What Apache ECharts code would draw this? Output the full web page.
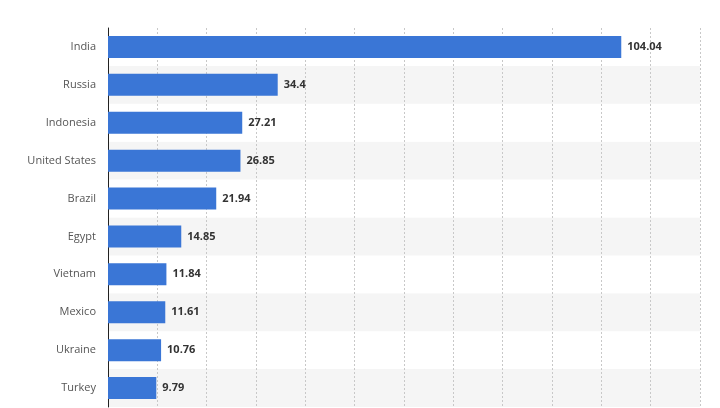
<!DOCTYPE html>
<html>
<head>
<meta charset="utf-8">
<script src="https://cdn.jsdelivr.net/npm/echarts@6/dist/echarts.min.js"></script>
<style>html,body{margin:0;padding:0;background:#fff}#main{width:720px;height:408px}</style>
</head>
<body>
<div id="main"></div>
<script>
// listed bottom to top, as the category axis draws them
var countries = ["Turkey", "Ukraine", "Mexico", "Vietnam", "Egypt", "Brazil", "United States", "Indonesia", "Russia", "India"];
var values = [9.79, 10.76, 11.61, 11.84, 14.85, 21.94, 26.85, 27.21, 34.4, 104.04];

var chart = echarts.init(document.getElementById("main"));
chart.setOption({
    animation: false,
    grid: {left: 108, right: 20, top: 28, bottom: 1, containLabel: false},
    xAxis: {
        type: "value",
        min: 0,
        max: 120,
        interval: 10,
        axisLabel: {show: false},
        axisLine: {show: false},
        axisTick: {show: false},
        splitLine: {lineStyle: {color: "#c8c8c8", type: [2, 2]}}
    },
    yAxis: {
        type: "category",
        data: countries,
        axisLine: {lineStyle: {color: "#222", width: 1}},
        axisTick: {show: false},
        axisLabel: {color: "#555", fontSize: 11, fontFamily: "Open Sans", margin: 12},
        splitArea: {show: true, areaStyle: {color: ["#f5f5f5", "#ffffff"]}}
    },
    series: [{
        type: "bar",
        data: values,
        barWidth: 22,
        itemStyle: {color: "#3a76d6"},
        label: {
            show: true,
            position: "right",
            distance: 6,
            color: "#333",
            fontSize: 11,
            fontWeight: "bold",
            fontFamily: "Open Sans"
        }
    }]
});
</script>
</body>
</html>
